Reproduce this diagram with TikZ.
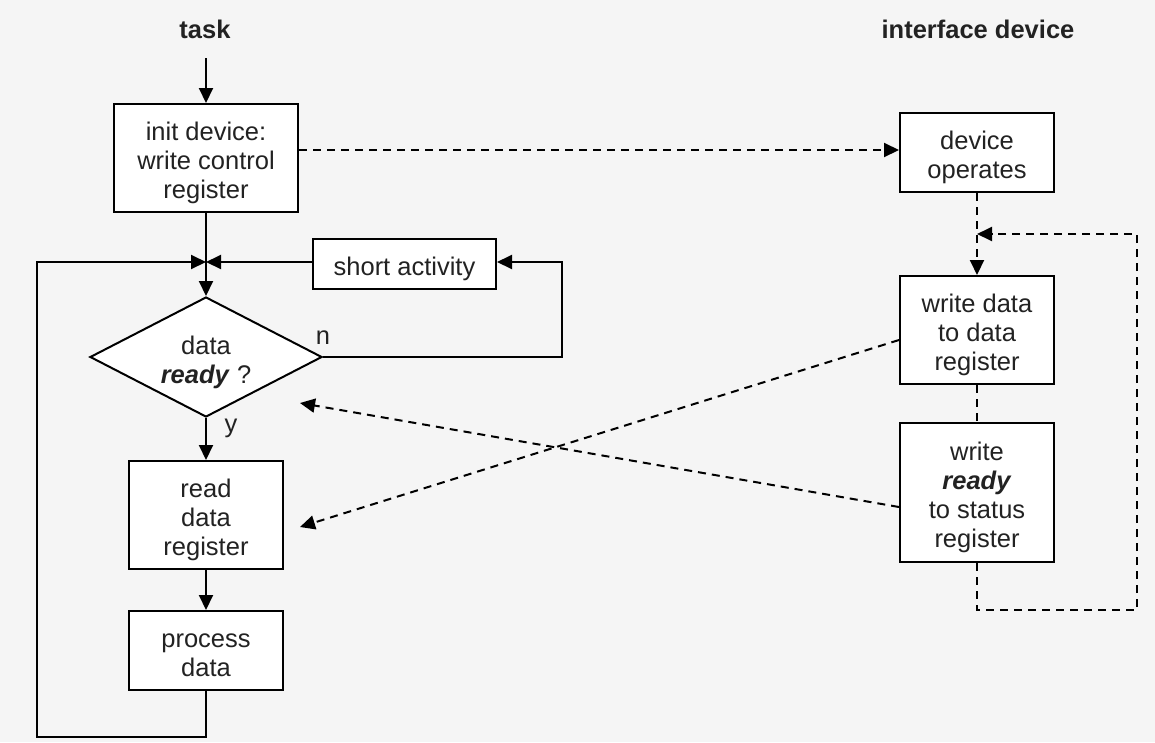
\documentclass[tikz,border=0pt]{standalone}
\usepackage{fontspec}
\setmainfont{Liberation Sans}
\usetikzlibrary{arrows.meta,shapes.geometric,calc}
\definecolor{bg}{HTML}{F5F5F5}
\definecolor{txt}{HTML}{222222}
\newcommand\SL{\rule[-3pt]{0pt}{26pt}}
\newcommand\RDY{\textbf{\textit{ready}}}
\begin{document}
\begin{tikzpicture}[x=1pt,y=-1pt,
  every node/.style={font=\fontsize{25.5}{29}\selectfont, text=txt},
  box/.style={draw=black, line width=2pt, fill=white, align=center, inner sep=0pt, text depth=0pt},
  dia/.style={draw=black, line width=2pt, fill=white, align=center, diamond, aspect=1.93, inner sep=0pt, minimum width=232pt, minimum height=120pt},
  conn/.style={line width=2pt, -{Triangle[length=15pt,width=14pt]}},
  plain/.style={line width=2pt},
  dconn/.style={line width=2pt, dash pattern=on 8pt off 6pt, -{Triangle[length=15pt,width=14pt]}},
  dplain/.style={line width=2pt, dash pattern=on 8pt off 6pt},
  head/.style={font=\fontsize{25.5}{29}\selectfont\bfseries}]
\fill[bg] (0,0) rectangle (1155,742);
\useasboundingbox (0,0) rectangle (1155,742);

\node[head] (task) at (205,29) {task};
\node[head] (iface) at (978,29) {interface device};

\node[box, minimum width=184pt, minimum height=108pt] (init) at (206,158) {\SL init device:\\\SL write control\\\SL register};
\node[box, minimum width=154pt, minimum height=79pt] (devop) at (977,152.5) {\SL device\\\SL operates};
\node[box, minimum width=154pt, minimum height=108pt] (wdata) at (977,330) {\SL write data\\\SL to data\\\SL register};
\node[box, minimum width=154pt, minimum height=139pt] (wready) at (977,492.5) {\SL write\\\SL\RDY\\\SL to status\\\SL register};
\node[box, minimum width=183pt, minimum height=50pt] (short) at (404.5,264) {\SL short activity};
\node[dia] (dec) at (206,357) {};
\node (dectext) at (206,357.5) [align=center, text depth=0pt] {\SL data\\\SL\RDY{} ?};
\node[box, minimum width=154pt, minimum height=108pt] (read) at (206,515) {\SL read\\\SL data\\\SL register};
\node[box, minimum width=154pt, minimum height=79pt] (proc) at (206,650.5) {\SL process\\\SL data};

\node (nlab) at (323,338) {n};
\node (ylab) at (231,428) {y};

\coordinate (start) at (206,58);
\coordinate (J) at (206,262);
\coordinate (nR) at (562,357);
\coordinate (nT) at (562,262);
\coordinate (lB) at (206,737);
\coordinate (lBL) at (37,737);
\coordinate (lTL) at (37,262);
\coordinate (dJ) at (977,234);
\coordinate (rB) at (977,610);
\coordinate (rBR) at (1137,610);
\coordinate (rTR) at (1137,234);
\coordinate (aRead) at (300,527);
\coordinate (aDec) at (300,403);

% task flow
\draw[conn] (start) -- (init.north);
\draw[plain] (init.south) -- (J);
\draw[conn] (J) -- (dec.north);
\draw[conn] (short.west |- J) -- (J);
\draw[conn] (dec.east) -- (nR) -- (nT) -- (short.east |- nT);
\draw[conn] (dec.south) -- (read.north);
\draw[conn] (read.south) -- (proc.north);
\draw[conn] (proc.south) -- (lB) -- (lBL) -- (lTL) -- (J);

% device flow
\draw[dconn] ($(init.east |- devop.west)+(0,-2.5)$) -- ($(devop.west)+(0,-2.5)$);
\draw[dconn] (devop.south) -- (wdata.north);
\draw[dplain] (wdata.south) -- (wready.north);
\draw[dconn] (wready.south) -- (rB) -- (rBR) -- (rTR) -- (dJ);
\draw[dconn] ($(wdata.west)+(0,10)$) -- (aRead);
\draw[dconn] ($(wready.west)+(0,14.5)$) -- (aDec);
\end{tikzpicture}
\end{document}
